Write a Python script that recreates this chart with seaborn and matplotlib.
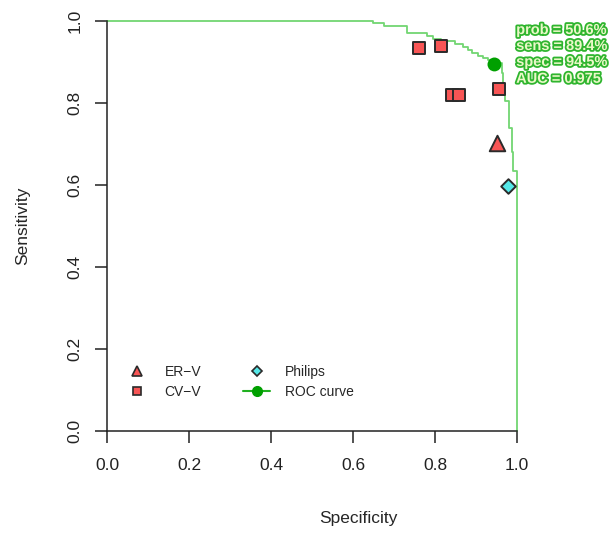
import matplotlib
matplotlib.use("Agg")
import matplotlib.pyplot as plt
import matplotlib.patheffects as pe
import seaborn as sns
import pandas as pd

# ROC curve corners (specificity, sensitivity)
roc_spec = [0.0, 0.649, 0.676, 0.732, 0.780, 0.795, 0.815, 0.849, 0.868, 0.880, 0.890,
            0.905, 0.917, 0.929, 0.939, 0.946, 0.963, 0.966, 0.971, 0.980, 0.988, 0.990,
            1.0, 1.0]
roc_sens = [1.0, 0.995, 0.988, 0.971, 0.963, 0.956, 0.951, 0.944, 0.937, 0.929, 0.922,
            0.915, 0.910, 0.905, 0.900, 0.898, 0.873, 0.832, 0.805, 0.739, 0.680, 0.634,
            0.607, 0.0]

# best threshold point
best_spec = 0.945
best_sens = 0.894
best_labels = ["prob = 50.6%", "sens = 89.4%", "spec = 94.5%", "AUC = 0.975"]

# individual readers / devices
erv_spec = [0.951]
erv_sens = [0.702]
cvv_spec = [0.761, 0.815, 0.841, 0.859, 0.956]
cvv_sens = [0.934, 0.939, 0.820, 0.820, 0.834]
philips_spec = [0.978]
philips_sens = [0.598]

tick_vals = [0, 0.2, 0.4, 0.6, 0.8, 1.0]
tick_labels = ["0.0", "0.2", "0.4", "0.6", "0.8", "1.0"]

sns.set_style("ticks")
plt.rcParams["font.family"] = ["Liberation Sans", "DejaVu Sans"]

fig = plt.figure(figsize=(6.14, 5.33), dpi=100)
ax = fig.add_axes([107 / 614, 1 - 431 / 533, 410 / 614, 410 / 533])

roc_df = pd.DataFrame({"spec": roc_spec, "sens": roc_sens})
ax.plot(roc_df["spec"], roc_df["sens"], drawstyle="steps-post", color="#72d672",
        lw=1.3, clip_on=False, zorder=2)

sns.scatterplot(x=cvv_spec, y=cvv_sens, marker="s", s=72, color="#f85555",
                edgecolor="#2a2a2a", linewidth=1.4, ax=ax, zorder=3, clip_on=False)
sns.scatterplot(x=erv_spec, y=erv_sens, marker="^", s=125, color="#f85555",
                edgecolor="#2a2a2a", linewidth=1.4, ax=ax, zorder=3)
sns.scatterplot(x=philips_spec, y=philips_sens, marker="D", s=55, color="#55e8e8",
                edgecolor="#2a2a2a", linewidth=1.4, ax=ax, zorder=3)
sns.scatterplot(x=[best_spec], y=[best_sens], marker="o", s=100, color="#00a000",
                edgecolor="none", ax=ax, zorder=4)

ty = [0.978, 0.939, 0.900, 0.859]
for lab, yv in zip(best_labels, ty):
    ax.text(0.998, yv, lab, fontsize=10.5, color="#eaf8c8", fontweight="bold",
            ha="left", va="center", clip_on=False,
            path_effects=[pe.Stroke(linewidth=2.6, foreground="#2fb52f"), pe.Normal()])

ax.set_xlim(0, 1.0)
ax.set_ylim(0, 1)
ax.set_xticks(tick_vals)
ax.set_xticklabels(tick_labels)
ax.set_yticks(tick_vals)
ax.set_yticklabels(tick_labels, va="center")
ax.tick_params(direction="out", length=8.5, width=1.1, colors="#222222",
               labelsize=12.5)
ax.tick_params(axis="x", pad=11)
ax.tick_params(axis="y", pad=9, labelrotation=90)

for s in ["top", "right"]:
    ax.spines[s].set_visible(False)
for s in ["left", "bottom"]:
    ax.spines[s].set_color("#222222")
    ax.spines[s].set_linewidth(1.1)

ax.set_xlabel("Specificity", fontsize=12.5)
ax.set_ylabel("Sensitivity", fontsize=12.5)
ax.xaxis.set_label_coords((358 - 107) / 410, -(511 - 431) / 410)
ax.yaxis.set_label_coords(-(107 - 30) / 410, 0.5)

# legend
h_erv = plt.Line2D([], [], marker="^", ls="none", markersize=7, markerfacecolor="#f85555",
                   markeredgecolor="#2a2a2a", markeredgewidth=1.2)
h_cvv = plt.Line2D([], [], marker="s", ls="none", markersize=5.5, markerfacecolor="#f85555",
                   markeredgecolor="#2a2a2a", markeredgewidth=1.2)
h_phi = plt.Line2D([], [], marker="D", ls="none", markersize=5, markerfacecolor="#55e8e8",
                   markeredgecolor="#2a2a2a", markeredgewidth=1.2)
h_roc = plt.Line2D([], [], marker="o", color="#20b020", lw=1.5, markersize=7,
                   markerfacecolor="#00a000", markeredgecolor="#00a000")
ax.legend([h_erv, h_cvv, h_phi, h_roc], ["ER\u2212V", "CV\u2212V", "Philips", "ROC curve"],
          ncol=2, frameon=False, fontsize=10, loc="upper left",
          bbox_to_anchor=((123 - 107) / 410, (431 - 365) / 410),
          borderaxespad=0, borderpad=0,
          handlelength=1.95, columnspacing=3.0, labelspacing=0.45, handletextpad=1.05)

fig.savefig("out.png", dpi=100)
